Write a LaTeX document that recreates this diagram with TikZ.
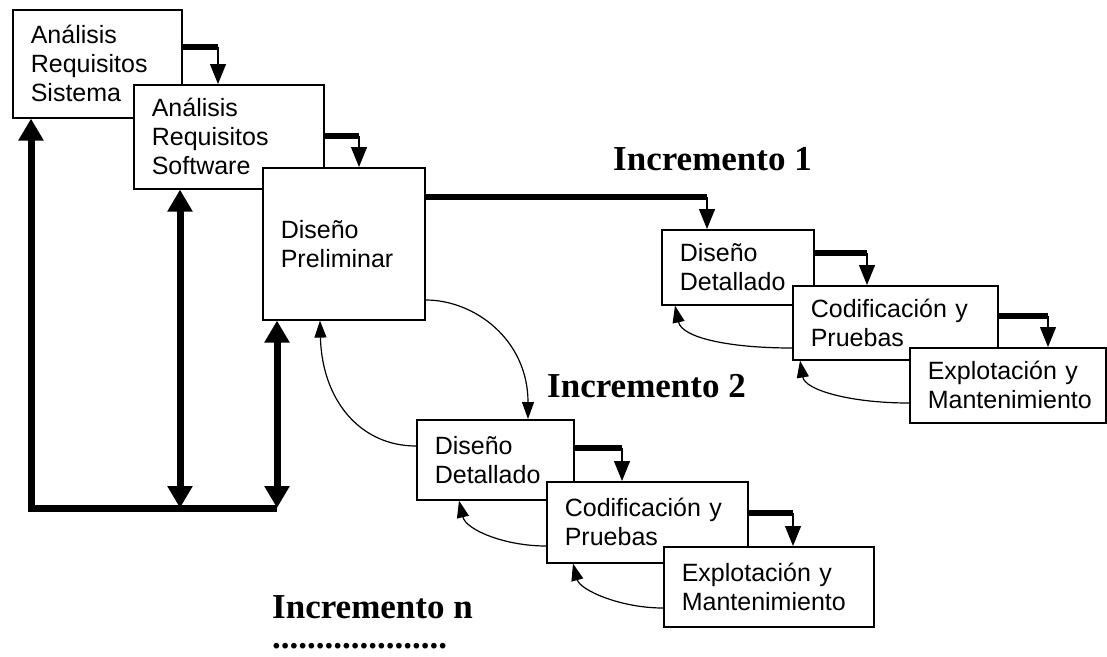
\documentclass[tikz,border=0pt]{standalone}
\usepackage{fontspec}
\setmainfont{Liberation Sans}
\newfontfamily\titulofont{Liberation Serif}
\usetikzlibrary{arrows.meta}

\tikzset{
  fase/.style={draw, fill=white, line width=1.6pt, inner xsep=18pt, inner ysep=0pt, align=left, anchor=north west, font=\fontsize{25}{29}\selectfont},
  titulo/.style={inner sep=0pt, anchor=base west, font=\titulofont\bfseries\fontsize{35}{30}\selectfont},
  bus/.style={line width=5.5pt},
  flecha/.style={line width=1.2pt, -{Triangle[length=20pt,width=16pt]}},
  retro/.style={line width=7pt, line join=miter},
  curva/.style={line width=1.2pt, -{Triangle[length=17pt,width=12pt]}}
}

\begin{document}
\begin{tikzpicture}[x=1pt,y=-1pt]
\path[use as bounding box, fill=white] (0,0) rectangle (1107,656);

% fases comunes
\node[fase, text width=133pt, minimum height=108pt] (ars) at (12,9) {Análisis\\Requisitos\\Sistema};
\node[fase, text width=154pt, minimum height=104pt] (arsw) at (133,84) {Análisis\\Requisitos\\Software};
\node[fase, text width=126pt, minimum height=152pt] (dp) at (262,167) {Diseño\\Preliminar};

% incremento 1
\node[fase, text width=116pt, minimum height=75pt] (dd1) at (661,229) {Diseño\\Detallado};
\node[fase, text width=169pt, minimum height=74pt] (cp1) at (792,285) {Codificación y\\Pruebas};
\node[fase, text width=160pt, minimum height=75pt] (em1) at (909,347) {Explotación y\\Mantenimiento};

% incremento 2
\node[fase, text width=121pt, minimum height=80pt] (dd2) at (416,419) {Diseño\\Detallado};
\node[fase, text width=165pt, minimum height=81pt] (cp2) at (546,481) {Codificación y\\Pruebas};
\node[fase, text width=174pt, minimum height=80pt] (em2) at (663,546) {Explotación y\\Mantenimiento};

% titulos
\node[titulo] (inc1) at (613,170) {Incremento 1};
\node[titulo] (inc2) at (547,397) {Incremento 2};
\node[titulo, anchor=north west, align=left] (incn) at (272,595) {Incremento n\\....................};

% paso de una fase a la siguiente
\coordinate (c1) at (218,47);
\coordinate (c2) at (359,136);
\coordinate (c3) at (707,197);
\coordinate (c4) at (867,253);
\coordinate (c5) at (1048,316);
\coordinate (c6) at (622,448);
\coordinate (c7) at (793,513);
\draw[bus] (ars.east |- c1) -- (c1);
\draw[flecha] (c1) -- (c1 |- arsw.north);
\draw[bus] (arsw.east |- c2) -- (c2);
\draw[flecha] (c2) -- (c2 |- dp.north);
\draw[bus] (dp.east |- c3) -- (c3);
\draw[flecha] (c3) -- (c3 |- dd1.north);
\draw[bus] (dd1.east |- c4) -- (c4);
\draw[flecha] (c4) -- (c4 |- cp1.north);
\draw[bus] (cp1.east |- c5) -- (c5);
\draw[flecha] (c5) -- (c5 |- em1.north);
\draw[bus] (dd2.east |- c6) -- (c6);
\draw[flecha] (c6) -- (c6 |- cp2.north);
\draw[bus] (cp2.east |- c7) -- (c7);
\draw[flecha] (c7) -- (c7 |- em2.north);

% retroalimentacion gruesa
\coordinate (b1) at (31,508);
\coordinate (b2) at (180,508);
\coordinate (b3) at (277,508);
\draw[retro, -{Triangle[length=22pt,width=24pt]}] (b3) -- (b1) -- (b1 |- ars.south);
\draw[retro, {Triangle[length=22pt,width=24pt]}-{Triangle[length=22pt,width=24pt]}] (b2) -- (b2 |- arsw.south);
\draw[retro, {Triangle[length=22pt,width=24pt]}-{Triangle[length=22pt,width=24pt]}] (b3) -- (b3 |- dp.south);

% curvas
\draw[curva] (dp.east |- 0,300) .. controls (475,300) and (528,340) .. (dd2.north -| 528,0);
\draw[curva] (dd2.west |- 0,446) .. controls (360,446) and (322,400) .. (dp.south -| 320,0);
\draw[curva] (cp2.west |- 0,546) .. controls (505,546) and (466,530) .. (dd2.south -| 459,0);
\draw[curva] (em2.west |- 0,608) .. controls (620,608) and (580,590) .. (cp2.south -| 573,0);
\draw[curva] (cp1.west |- 0,348) .. controls (730,348) and (682,338) .. (dd1.south -| 675,0);
\draw[curva] (em1.west |- 0,403) .. controls (850,403) and (805,390) .. (cp1.south -| 800,0);

\end{tikzpicture}
\end{document}
